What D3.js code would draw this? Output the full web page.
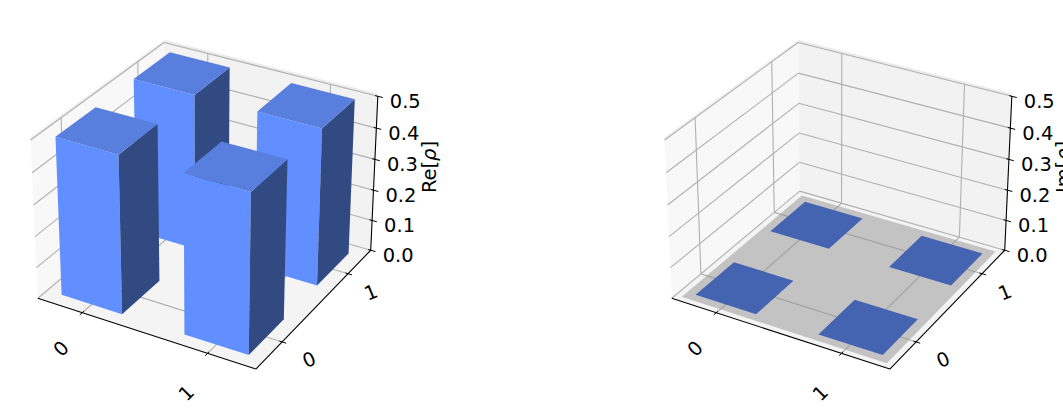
<!DOCTYPE html>
<html><head><meta charset="utf-8">
<script src="https://cdnjs.cloudflare.com/ajax/libs/d3/7.8.5/d3.min.js"></script>
<style>html,body{margin:0;padding:0;background:#fff;overflow:hidden}text{font-family:"DejaVu Sans";fill:#000}</style>
</head><body><svg id="c" width="1063" height="410"></svg>
<script>
// ---- data ----
const xLabels = ["0", "1"];
const yLabels = ["0", "1"];
const xPositions = [0.25, 1.25];
const yPositions = [0.25, 1.25];
const barWidth = 0.5;
const reValues = [[0.5, 0.5], [0.5, 0.5]]; // [x][y]
const imValues = [[0, 0], [0, 0]];
const zTicks = [0, 0.1, 0.2, 0.3, 0.4, 0.5];
const tickPositions = [0.5, 1.5];
const planeExtent = [0.18, 1.82];

// ---- scales (data -> unit cube) ----
const xs = d3.scaleLinear().domain([0.13, 1.87]).range([0, 1]);
const ys = d3.scaleLinear().domain([0.13, 1.87]).range([0, 1]);
const zs = d3.scaleLinear().domain([0, 0.5]).range([0, 1]);

// ---- camera: fitted projective map from reference points of the panel frame ----
const a0=xs(0.25),a1=xs(0.75),b0=xs(1.25),b1=xs(1.75);
const corners = [
  [0,0,0, 38.5,299.3],[1,0,0, 256,370],[1,1,0, 371,250],[0,1,0, 165,192],
  [0,0,1, 31.3,139.3],[0,1,1, 165,42.3],[1,1,1, 376.7,96]
];
const frame = [
  ...corners,...corners,...corners,
  [a0,a0,1, 54.3,136.7],[a1,a0,1, 117.3,155],[a1,a1,1, 156.7,124.3],[a0,a1,1, 95,107.3],
  [b0,b0,1, 257.7,111.7],[b1,b0,1, 322.7,129],[b1,b1,1, 356,99.3],[b0,b1,1, 292.3,82.7],
  [a0,b0,1, 133.3,79],[a1,b0,1, 195,94.7],[a1,b1,1, 230,67.7],[a0,b1,1, 169.3,51.7],
  [b0,a0,1, 183.3,174],[b1,a0,1, 251,192.7],[b1,a1,1, 287.7,160],[b0,a1,1, 221,142.3],
  [a0,a0,0, 60,293.3],[a1,a0,0, 121.7,312.7],[a1,a1,0, 159.3,279.3],
  [b0,a0,0, 184,333.3],[b1,a0,0, 249.3,354],[b1,a1,0, 284.3,318.3]
];
function solve(A,b){
  const n=b.length, M=A.map((r,i)=>[...r,b[i]]);
  for(let i=0;i<n;i++){
    let p=i; for(let k=i+1;k<n;k++) if(Math.abs(M[k][i])>Math.abs(M[p][i])) p=k;
    [M[i],M[p]]=[M[p],M[i]];
    for(let k=0;k<n;k++){ if(k===i) continue; const f=M[k][i]/M[i][i]; for(let j=i;j<=n;j++) M[k][j]-=f*M[i][j]; }
  }
  return M.map((r,i)=>r[n]/r[i]);
}
const rows=[],rhs=[];
frame.forEach(([u,v,w,sx,sy])=>{
  rows.push([u,v,w,1,0,0,0,0,-sx*u,-sx*v,-sx*w]); rhs.push(sx);
  rows.push([0,0,0,0,u,v,w,1,-sy*u,-sy*v,-sy*w]); rhs.push(sy);
});
const N=d3.range(11).map(i=>d3.range(11).map(j=>d3.sum(rows,r=>r[i]*r[j])));
const R=d3.range(11).map(i=>d3.sum(rows,(r,k)=>r[i]*rhs[k]));
const P=solve(N,R);
function proj(u,v,w){
  const d=P[8]*u+P[9]*v+P[10]*w+1;
  return [(P[0]*u+P[1]*v+P[2]*w+P[3])/d,(P[4]*u+P[5]*v+P[6]*w+P[7])/d];
}

const svg=d3.select("#c");
const line=d3.line();
const GRID="#b0b0b0";

function panel(dx,values,name,colors,showPlane){
  const g=svg.append("g").attr("transform",`translate(${dx},0)`);
  const poly=(pts,fill,extra={})=>{
    const p=g.append("path").attr("d",line(pts.map(q=>proj(...q)))+"Z").attr("fill",fill);
    Object.entries(extra).forEach(([k,v])=>p.attr(k,v)); return p;
  };
  const seg=(a,b,stroke,w)=>g.append("path").attr("d",line([proj(...a),proj(...b)])).attr("stroke",stroke).attr("stroke-width",w).attr("fill","none");
  const rim=1.016;
  // panes
  poly([[0,0,0],[0,1,0],[0,1,rim],[0,0,rim]],"#f8f8f8");
  poly([[0,1,0],[1,1,0],[1,1,rim],[0,1,rim]],"#f2f2f2");
  poly([[0,0,0],[1,0,0],[1,1,0],[0,1,0]],"#f4f4f4");
  // rim of the walls
  poly([[0,0,1],[0,1,1],[0,1,rim],[0,0,rim]],"#f0f0f0");
  poly([[0,1,1],[1,1,1],[1,1,rim],[0,1,rim]],"#ebebeb");
  // grid
  zTicks.forEach(t=>{
    const w=zs(t);
    seg([0,0,w],[0,1,w],GRID,1.1); seg([0,1,w],[1,1,w],GRID,1.1);
  });
  tickPositions.forEach(t=>{
    const u=xs(t), v=ys(t);
    seg([u,0,0],[u,1,0],GRID,1.1); seg([u,1,0],[u,1,1],GRID,1.1);
    seg([0,v,0],[1,v,0],GRID,1.1); seg([0,v,0],[0,v,1],GRID,1.1);
  });
  if(showPlane){
    const a=xs(planeExtent[0]),b=xs(planeExtent[1]),c=ys(planeExtent[0]),d=ys(planeExtent[1]);
    poly([[a,c,0],[b,c,0],[b,d,0],[a,d,0]],"#919191",{"fill-opacity":0.5});
  }
  // bars, far to near
  const bars=[];
  xPositions.forEach((x,i)=>yPositions.forEach((y,j)=>bars.push({x,y,h:values[i][j]})));
  bars.sort((a,b)=>d3.descending(a.y,b.y)||d3.ascending(a.x,b.x));
  bars.forEach(b=>{
    const x0=xs(b.x),x1=xs(b.x+barWidth),y0=ys(b.y),y1=ys(b.y+barWidth),z=zs(b.h);
    if(b.h>0){
      poly([[x0,y0,0],[x1,y0,0],[x1,y0,z],[x0,y0,z]],colors.front);
      poly([[x1,y0,0],[x1,y1,0],[x1,y1,z],[x1,y0,z]],colors.side);
    }
    poly([[x0,y0,z],[x1,y0,z],[x1,y1,z],[x0,y1,z]],colors.top);
  });
  // axis lines
  seg([0,0,0],[1,0,0],"#000",1.1); seg([1,0,0],[1,1,0],"#000",1.1); seg([1,1,0],[1,1,1],"#000",1.1);
  // ticks and labels
  const label=(t,x,y,rot,anchor="middle",size=19.44)=>g.append("text").text(t).attr("text-anchor",anchor)
    .attr("dominant-baseline","central").attr("font-size",size)
    .attr("transform",`translate(${x},${y}) rotate(${rot})`);
  tickPositions.forEach((t,i)=>{
    const u=xs(t), v=ys(t);
    seg([u,-0.018,0],[u,0.012,0],"#000",1);
    seg([1.018,v,0],[0.988,v,0],"#000",1);
    const px=proj(u,0,0), py=proj(1,v,0);
    label(xLabels[i],px[0]-21,px[1]+[36,40][i],-45);
    label(yLabels[i],py[0]+[27,23][i],py[1]+[18,19][i],-22.5);
  });
  zTicks.forEach(t=>{
    const w=zs(t);
    seg([0.988,1,w],[1.022,1,w],"#000",1);
    const p=proj(1,1,w);
    label(d3.format(".1f")(t),p[0]+12,p[1]+5,0,"start");
  });
  const zl=g.append("text").attr("text-anchor","middle").attr("dominant-baseline","central")
    .attr("font-size",19.44).attr("transform","translate(429,167) rotate(-90)");
  zl.append("tspan").text(name+"[");
  zl.append("tspan").attr("font-style","italic").text("ρ");
  zl.append("tspan").text("]");
}
panel(0,reValues,"Re",{front:"#618fff",top:"#587ede",side:"#314a82"},false);
panel(634,imValues,"Im",{front:"#618fff",top:"#4464b2",side:"#314a82"},true);
</script></body></html>
